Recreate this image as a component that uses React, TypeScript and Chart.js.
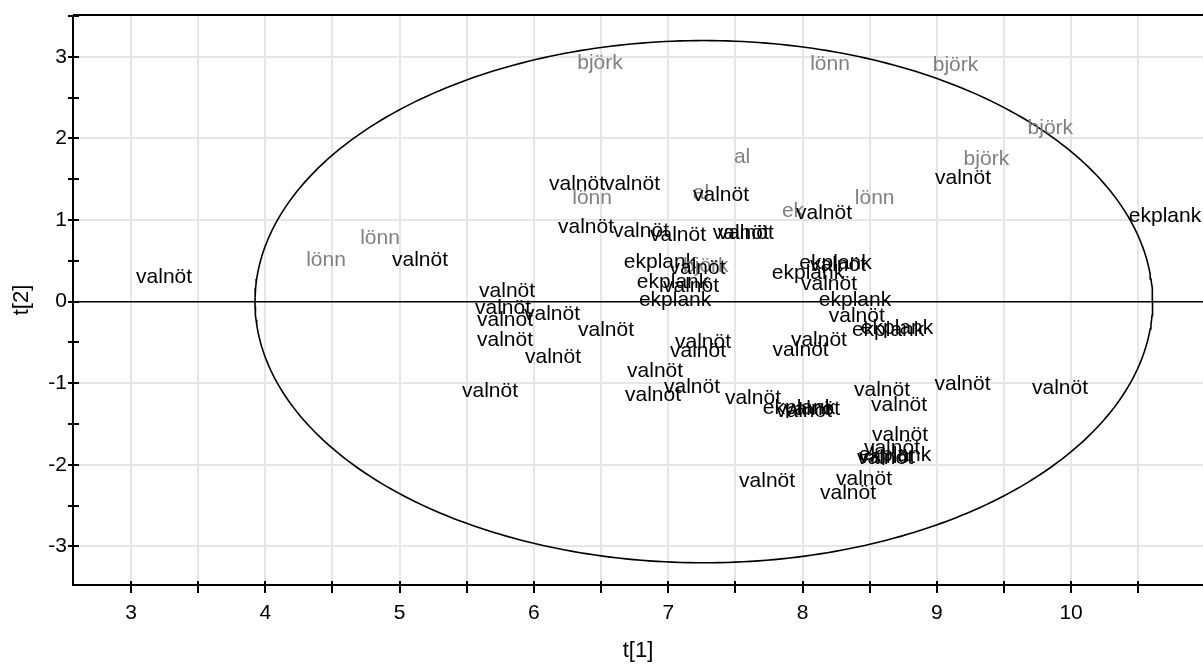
import React, { useEffect, useRef } from 'react';
import { Chart, registerables } from 'chart.js';

Chart.register(...registerables);

// ---- Data ----
const obsNames: string[] = [
  'valnöt', 'lönn', 'lönn', 'valnöt', 'valnöt', 'valnöt', 'valnöt', 'valnöt', 'valnöt', 'valnöt',
  'valnöt', 'valnöt', 'björk', 'lönn', 'björk', 'björk', 'björk', 'valnöt', 'lönn', 'ek',
  'valnöt', 'ekplank', 'al', 'al', 'valnöt', 'valnöt', 'valnöt', 'lönn', 'valnöt', 'valnöt',
  'valnöt', 'valnöt', 'valnöt', 'ekplank', 'björk', 'valnöt', 'ekplank', 'valnöt', 'ekplank', 'ekplank',
  'valnöt', 'ekplank', 'valnöt', 'ekplank', 'valnöt', 'ekplank', 'ekplank', 'valnöt', 'valnöt', 'valnöt',
  'valnöt', 'valnöt', 'valnöt', 'valnöt', 'valnöt', 'ekplank', 'valnöt', 'valnöt', 'valnöt', 'valnöt',
  'valnöt', 'valnöt', 'valnöt', 'valnöt', 'ekplank', 'valnöt', 'valnöt', 'valnöt', 'valnöt', 'valnöt',
];

const t1Scores: number[] = [
  3.246, 4.452, 4.854, 5.152, 5.800, 5.770, 5.785, 6.135, 5.785, 6.142,
  5.673, 6.537, 6.492, 8.205, 9.139, 9.845, 9.369, 9.195, 8.537, 7.929,
  8.160, 10.699, 7.550, 7.244, 7.393, 6.321, 6.730, 6.433, 6.388, 6.797,
  7.073, 7.540, 7.577, 6.939, 7.280, 7.218, 7.036, 7.170, 7.051, 8.246,
  8.264, 8.041, 8.197, 8.391, 8.404, 8.637, 8.704, 8.122, 7.986, 7.259,
  7.222, 6.902, 6.887, 7.177, 7.631, 7.974, 8.011, 8.071, 8.592, 8.719,
  9.191, 9.917, 8.726, 8.666, 8.689, 8.614, 8.629, 7.736, 8.458, 8.339,
];

const t2Scores: number[] = [
  0.303, 0.511, 0.781, 0.511, 0.123, -0.081, -0.224, -0.151, -0.469, -0.678,
  -1.094, -0.347, 2.922, 2.913, 2.901, 2.125, 1.745, 1.512, 1.267, 1.103,
  1.083, 1.042, 1.773, 1.332, 1.308, 1.439, 1.439, 1.267, 0.912, 0.858,
  0.817, 0.838, 0.838, 0.483, 0.429, 0.409, 0.238, 0.184, 0.021, 0.471,
  0.441, 0.348, 0.213, 0.021, -0.184, -0.347, -0.322, -0.469, -0.592, -0.502,
  -0.613, -0.849, -1.143, -1.042, -1.184, -1.306, -1.348, -1.319, -1.082, -1.266,
  -1.009, -1.058, -1.634, -1.797, -1.879, -1.919, -1.903, -2.194, -2.176, -2.348,
];

const grayClasses: string[] = ['björk', 'lönn', 'al', 'ek'];

// Hotelling T2 ellipse (center, semi-axes)
const ellipseCenter: number[] = [7.265, 0];
const ellipseRadii: number[] = [3.342, 3.2];

const xRange: number[] = [2.568, 10.982];
const yRange: number[] = [-3.472, 3.513];
const xTitle = 't[1]';
const yTitle = 't[2]';

const FONT = "'Liberation Sans', Arial, Helvetica, sans-serif";
const LABEL_SIZE = 21;
const TICK_SIZE = 21;
const TITLE_SIZE = 22;

function ellipsePoints() {
  const pts: { x: number; y: number }[] = [];
  const n = 360;
  for (let i = 0; i <= n; i++) {
    const a = (i / n) * Math.PI * 2;
    pts.push({
      x: ellipseCenter[0] + ellipseRadii[0] * Math.cos(a),
      y: ellipseCenter[1] + ellipseRadii[1] * Math.sin(a),
    });
  }
  return pts;
}

const labelPlugin = {
  id: 'obsLabels',
  afterDatasetsDraw(chart: any) {
    const ctx = chart.ctx;
    const meta = chart.getDatasetMeta(1);
    ctx.save();
    ctx.font = `${LABEL_SIZE}px ${FONT}`;
    ctx.textAlign = 'center';
    ctx.textBaseline = 'middle';
    meta.data.forEach((pt: any, i: number) => {
      const name = obsNames[i];
      ctx.fillStyle = grayClasses.includes(name) ? '#808080' : '#000000';
      ctx.fillText(name, pt.x, pt.y);
    });
    ctx.restore();
  },
};

const axesPlugin = {
  id: 'axesFrame',
  afterDraw(chart: any) {
    const ctx = chart.ctx;
    const { left, right, top, bottom } = chart.chartArea;
    const xs = chart.scales.x;
    const ys = chart.scales.y;
    ctx.save();
    ctx.strokeStyle = '#000';
    ctx.lineWidth = 2;
    ctx.beginPath();
    ctx.moveTo(left, top);
    ctx.lineTo(left, bottom);
    ctx.lineTo(right, bottom);
    ctx.moveTo(left, top);
    ctx.lineTo(right, top);
    ctx.stroke();
    // tick marks
    ctx.lineWidth = 2;
    ctx.beginPath();
    xs.ticks.forEach((t: any) => {
      const px = Math.round(xs.getPixelForValue(t.value));
      ctx.moveTo(px, bottom - 4);
      ctx.lineTo(px, bottom + 8);
    });
    ys.ticks.forEach((t: any) => {
      const py = Math.round(ys.getPixelForValue(t.value));
      ctx.moveTo(left - 5, py);
      ctx.lineTo(left + 6, py);
    });
    ctx.stroke();
    // titles
    ctx.fillStyle = '#000';
    ctx.font = `${TITLE_SIZE}px ${FONT}`;
    ctx.textAlign = 'center';
    ctx.textBaseline = 'middle';
    ctx.fillText(xTitle, (left + right) / 2, 651);
    ctx.translate(22, (top + bottom) / 2);
    ctx.rotate(-Math.PI / 2);
    ctx.fillText(yTitle, 0, 0);
    ctx.restore();
  },
};

export default function App() {
  const ref = useRef<HTMLCanvasElement | null>(null);
  useEffect(() => {
    if (!ref.current) return;
    const chart = new Chart(ref.current, {
      type: 'scatter',
      data: {
        datasets: [
          {
            label: 'ellipse',
            data: ellipsePoints(),
            showLine: true,
            borderColor: '#000',
            borderWidth: 1.6,
            pointRadius: 0,
            fill: false,
            tension: 0,
          },
          {
            label: 'observations',
            data: t1Scores.map((x, i) => ({ x, y: t2Scores[i] })),
            pointRadius: 0,
            showLine: false,
          },
        ],
      },
      options: {
        responsive: false,
        animation: false,
        devicePixelRatio: 1,
        events: [],
        layout: { padding: { top: 15, left: 0, right: 0, bottom: 0 } },
        plugins: { legend: { display: false }, tooltip: { enabled: false }, title: { display: false } },
        scales: {
          x: {
            type: 'linear',
            min: xRange[0],
            max: xRange[1],
            afterFit: (s: any) => {
              s.height = 79;
              s.paddingLeft = 0; s.paddingRight = 0; s.paddingTop = 0; s.paddingBottom = 0;
            },
            border: { display: false },
            grid: {
              drawTicks: false,
              color: '#e6e6e6',
              lineWidth: 2,
            },
            ticks: {
              stepSize: 0.5,
              includeBounds: false,
              autoSkip: false,
              maxRotation: 0,
              padding: 16,
              color: '#000',
              font: { family: FONT, size: TICK_SIZE },
              callback: (v: any) => (Number(v) % 1 === 0 ? String(v) : ''),
            },
          },
          y: {
            type: 'linear',
            min: yRange[0],
            max: yRange[1],
            afterFit: (s: any) => {
              s.width = 73;
              s.paddingLeft = 0; s.paddingRight = 0; s.paddingTop = 0; s.paddingBottom = 0;
            },
            border: { display: false },
            grid: {
              drawTicks: false,
              color: (c: any) => {
                const v = c.tick ? c.tick.value : 1;
                if (Math.abs(v) < 1e-9) return '#000';
                return Math.abs(v % 1) < 1e-9 ? '#e6e6e6' : 'rgba(0,0,0,0)';
              },
              lineWidth: (c: any) => {
                const v = c.tick ? c.tick.value : 1;
                return Math.abs(v) < 1e-9 ? 1.6 : 2;
              },
            },
            ticks: {
              stepSize: 0.5,
              includeBounds: false,
              autoSkip: false,
              padding: 6,
              color: '#000',
              font: { family: FONT, size: TICK_SIZE },
              callback: (v: any) => (Number(v) % 1 === 0 ? String(v) : ''),
            },
          },
        },
      },
      plugins: [labelPlugin, axesPlugin],
    } as any);
    return () => chart.destroy();
  }, []);
  return (
    <div style={{ position: 'fixed', left: 0, top: 0, width: 1203, height: 664, background: '#fff' }}>
      <canvas ref={ref} width={1203} height={664} style={{ display: 'block' }} />
    </div>
  );
}
